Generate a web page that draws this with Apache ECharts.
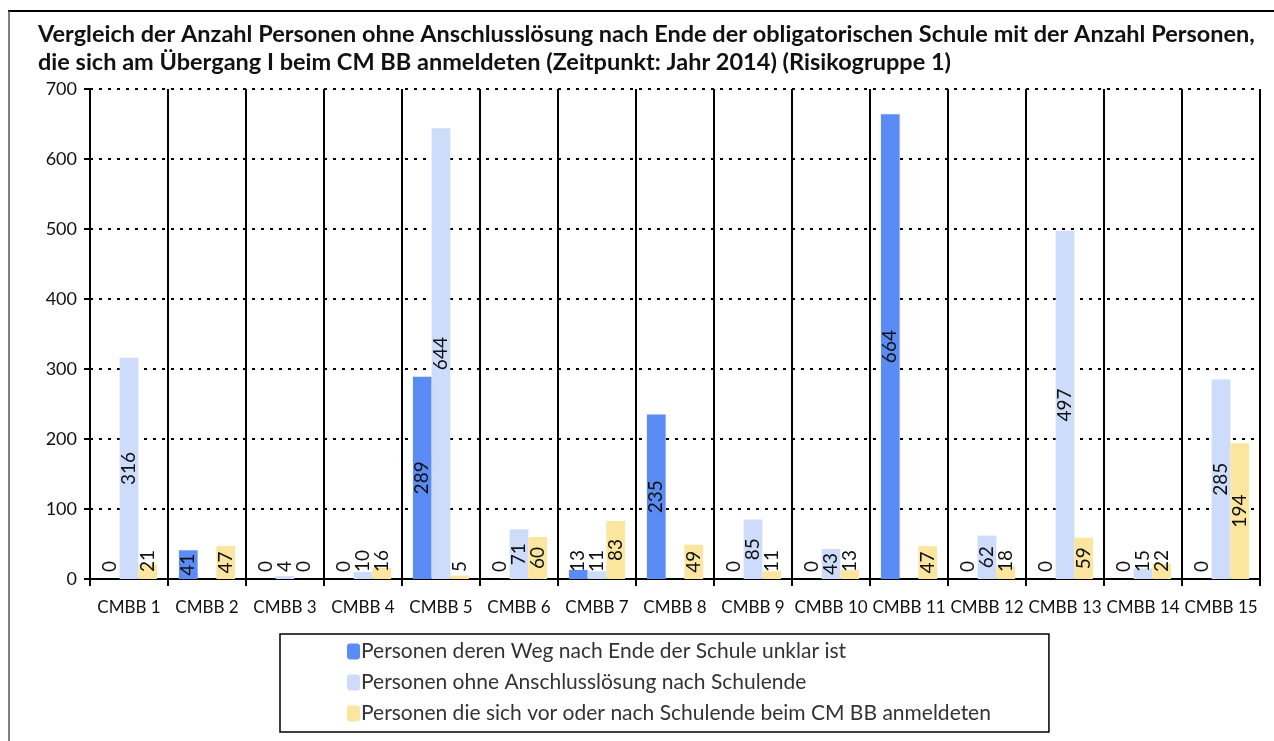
<!DOCTYPE html>
<html>
<head>
<meta charset="utf-8">
<script src="https://cdn.jsdelivr.net/npm/echarts@6/dist/echarts.min.js"></script>
<style>
  html, body { margin: 0; padding: 0; background: #fff; }
  #chart { width: 1274px; height: 741px; }
</style>
</head>
<body>
<div id="chart"></div>
<script>
  // data
  var categories = ['CMBB 1', 'CMBB 2', 'CMBB 3', 'CMBB 4', 'CMBB 5', 'CMBB 6', 'CMBB 7', 'CMBB 8',
    'CMBB 9', 'CMBB 10', 'CMBB 11', 'CMBB 12', 'CMBB 13', 'CMBB 14', 'CMBB 15'];
  var unklar = [0, 41, 0, 0, 289, 0, 13, 235, 0, 0, 664, 0, 0, 0, 0];
  var ohneLoesung = [316, null, 4, 10, 644, 71, 11, null, 85, 43, null, 62, 497, 15, 285];
  var angemeldet = [21, 47, 0, 16, 5, 60, 83, 49, 11, 13, 47, 18, 59, 22, 194];
  var seriesNames = [
    'Personen deren Weg nach Ende der Schule unklar ist',
    'Personen ohne Anschlusslösung nach Schulende',
    'Personen die sich vor oder nach Schulende beim CM BB anmeldeten'
  ];
  var colors = ['#5b8cf5', '#cddcfa', '#fce59e'];

  var font = 'Lato, "Open Sans", sans-serif';

  // small bars get their label sitting on the base, the others centered
  function withLabels(values) {
    return values.map(function (v) {
      if (v === null) return null;
      if (v < 35) {
        return { value: v, label: { position: 'insideBottom', distance: 7, align: 'left', verticalAlign: 'middle' } };
      }
      return { value: v, label: { position: 'inside', align: 'center', verticalAlign: 'middle' } };
    });
  }

  function makeSeries(name, values, color) {
    return {
      name: name,
      type: 'bar',
      data: withLabels(values),
      barGap: '0%',
      barCategoryGap: '28%',
      itemStyle: { color: color },
      label: {
        show: true,
        rotate: 90,
        fontFamily: font,
        fontSize: 19,
        color: '#111'
      }
    };
  }

  var chart = echarts.init(document.getElementById('chart'));
  chart.setOption({
    animation: false,
    title: {
      text: 'Vergleich der Anzahl Personen ohne Anschlusslösung nach Ende der obligatorischen Schule mit der Anzahl Personen,\ndie sich am Übergang I beim CM BB anmeldeten (Zeitpunkt: Jahr 2014) (Risikogruppe 1)',
      left: 33,
      top: 15,
      textStyle: { fontFamily: font, fontSize: 23.5, fontWeight: 'bold', color: '#111', lineHeight: 28 }
    },
    legend: {
      orient: 'vertical',
      left: 280,
      top: 634,
      padding: [7, 58, 8, 67],
      itemGap: 10,
      itemWidth: 13,
      itemHeight: 16,
      borderColor: '#000',
      borderWidth: 1.5,
      borderRadius: 0,
      data: seriesNames,
      textStyle: { fontFamily: font, fontSize: 21, color: '#333', padding: [0, 0, 0, -4] }
    },
    grid: { left: 90, right: 14, top: 89, bottom: 162 },
    xAxis: {
      type: 'category',
      data: categories,
      axisLine: { lineStyle: { color: '#000', width: 2 } },
      axisTick: { show: true, length: 7, lineStyle: { color: '#000', width: 2 } },
      splitLine: { show: true, interval: 0, lineStyle: { color: '#000', width: 2 } },
      axisLabel: { interval: 0, margin: 20, fontFamily: font, fontSize: 17, color: '#111' }
    },
    yAxis: {
      type: 'value',
      min: 0,
      max: 700,
      interval: 100,
      axisLine: { show: true, lineStyle: { color: '#000', width: 2 } },
      axisTick: { show: true, length: 6, lineStyle: { color: '#000', width: 2 } },
      splitLine: { show: true, lineStyle: { color: '#000', width: 2, type: [3, 6] } },
      axisLabel: { margin: 13, fontFamily: font, fontSize: 18, color: '#111' }
    },
    graphic: [
      { type: 'line', shape: { x1: 8, y1: 11, x2: 1274, y2: 11 }, style: { stroke: '#000', lineWidth: 2 } },
      { type: 'line', shape: { x1: 9, y1: 11, x2: 9, y2: 741 }, style: { stroke: '#555', lineWidth: 1.5 } }
    ],
    series: [
      makeSeries(seriesNames[0], unklar, colors[0]),
      makeSeries(seriesNames[1], ohneLoesung, colors[1]),
      makeSeries(seriesNames[2], angemeldet, colors[2])
    ]
  });
</script>
</body>
</html>
